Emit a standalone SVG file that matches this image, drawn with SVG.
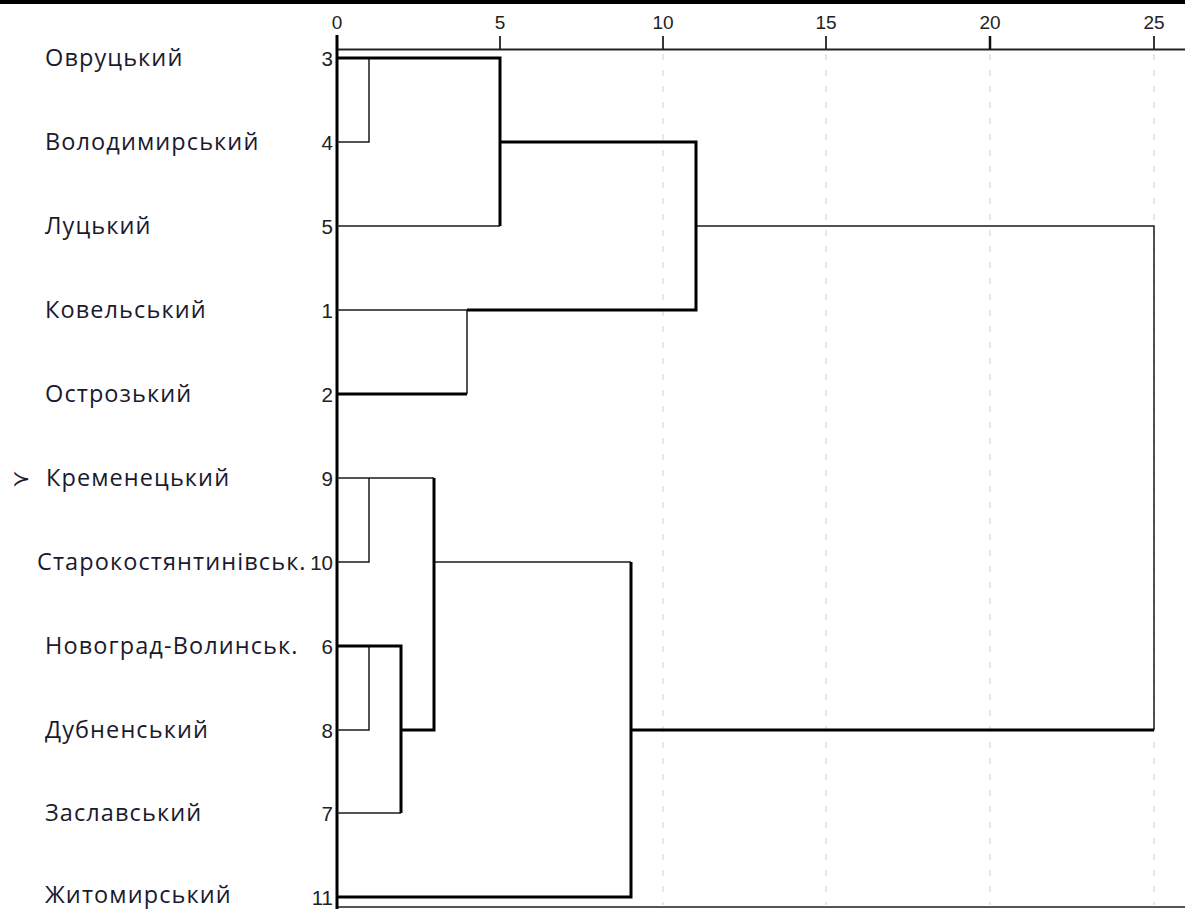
<svg xmlns="http://www.w3.org/2000/svg" width="1185" height="909" viewBox="0 0 1185 909">
<style>
.lbl{font-family:"Open Sans","Noto Sans",sans-serif;font-size:23.5px;letter-spacing:1.1px;fill:#1a1a2e}
.num{font-family:"Liberation Sans",Arial,sans-serif;font-size:20.5px;fill:#222;text-anchor:end}
.tick{font-family:"Liberation Sans",Arial,sans-serif;font-size:19px;fill:#222;text-anchor:middle}
.thin{fill:none;stroke:#1a1a1a;stroke-width:1.5}
.thick{fill:none;stroke:#000;stroke-width:3}
.grid{stroke:#d8d8d8;stroke-width:1.2;stroke-dasharray:6 10}
</style>
<rect x="0" y="0" width="1185" height="909" fill="#fff"/>
<rect x="0" y="0" width="1185" height="4" fill="#000"/>
<g id="axis">
<line class="grid" x1="663" y1="54" x2="663" y2="905"/>
<line class="grid" x1="826" y1="54" x2="826" y2="905"/>
<line class="grid" x1="990" y1="54" x2="990" y2="905" stroke="#ececec"/>
<line class="grid" x1="1154" y1="54" x2="1154" y2="905"/>
<line x1="337" y1="49.5" x2="1185" y2="49.5" stroke="#222" stroke-width="1.8"/>
<line x1="337" y1="907" x2="1185" y2="907" stroke="#555" stroke-width="2"/>
<line x1="500" y1="36" x2="500" y2="49" stroke="#222" stroke-width="1.8"/>
<line x1="663" y1="36" x2="663" y2="49" stroke="#222" stroke-width="1.8"/>
<line x1="826" y1="36" x2="826" y2="49" stroke="#222" stroke-width="1.8"/>
<line x1="990" y1="36" x2="990" y2="49" stroke="#111" stroke-width="2.5"/>
<line x1="1154" y1="36" x2="1154" y2="49" stroke="#222" stroke-width="1.8"/>
<line x1="337" y1="35" x2="337" y2="909" stroke="#000" stroke-width="3"/>
<text class="tick" x="337" y="29">0</text>
<text class="tick" x="500" y="29">5</text>
<text class="tick" x="663" y="29">10</text>
<text class="tick" x="826" y="29">15</text>
<text class="tick" x="990" y="29">20</text>
<text class="tick" x="1154" y="29">25</text>
</g>
<g id="connectors">
<path class="thin" d="M337,142 H369 V58"/>
<path class="thin" d="M337,226 H500"/>
<path class="thin" d="M337,310 H467 V394"/>
<path class="thin" d="M696,226 H1154 V730"/>
<path class="thin" d="M337,478 H434"/>
<path class="thin" d="M369,478 V562 H337"/>
<path class="thin" d="M434,562 H631"/>
<path class="thin" d="M369,646 V730 H337"/>
<path class="thin" d="M337,813 H401"/>
<path class="thick" d="M337,58 H500 V226"/>
<path class="thick" d="M500,142 H696 V310 H467"/>
<path class="thick" d="M337,394 H467"/>
<path class="thick" d="M631,730 H1154"/>
<path class="thick" d="M434,478 V730 H401"/>
<path class="thick" d="M631,562 V897 H337"/>
<path class="thick" d="M337,646 H401 V813"/>
</g>
<g id="node-3"><text class="lbl" x="45" y="66">Овруцький</text><text class="num" x="333" y="65.5">3</text></g>
<g id="node-4"><text class="lbl" x="45" y="150">Володимирський</text><text class="num" x="333" y="149.5">4</text></g>
<g id="node-5"><text class="lbl" x="45" y="234">Луцький</text><text class="num" x="333" y="233.5">5</text></g>
<g id="node-1"><text class="lbl" x="45" y="318">Ковельський</text><text class="num" x="333" y="317.5">1</text></g>
<g id="node-2"><text class="lbl" x="45" y="402">Острозький</text><text class="num" x="333" y="401.5">2</text></g>
<g id="node-9"><text x="12" y="486" font-family="DejaVu Sans,sans-serif" font-size="22" fill="#1a1a2e">≻</text><text class="lbl" x="46" y="486">Кременецький</text><text class="num" x="333" y="485.5">9</text></g>
<g id="node-10"><text class="lbl" x="37" y="570">Старокостянтинівськ.</text><text class="num" x="333" y="569.5">10</text></g>
<g id="node-6"><text class="lbl" x="45" y="654">Новоград-Волинськ.</text><text class="num" x="333" y="653.5">6</text></g>
<g id="node-8"><text class="lbl" x="45" y="738">Дубненський</text><text class="num" x="333" y="737.5">8</text></g>
<g id="node-7"><text class="lbl" x="45" y="821">Заславський</text><text class="num" x="333" y="820.5">7</text></g>
<g id="node-11"><text class="lbl" x="45" y="903">Житомирський</text><text class="num" x="333" y="904.5">11</text></g>
</svg>
